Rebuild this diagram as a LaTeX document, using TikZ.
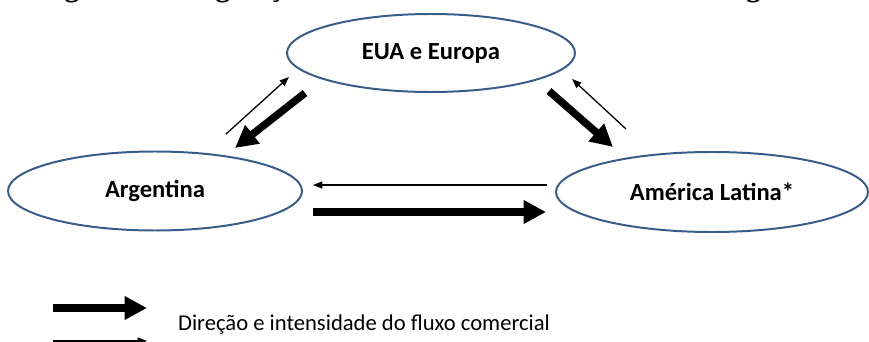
\documentclass[tikz,border=0pt]{standalone}
\usepackage{fontspec}
\setmainfont{Carlito}
\newfontfamily\titulofonte{Liberation Serif}
\usetikzlibrary{shapes.geometric,arrows.meta}
\definecolor{azul}{RGB}{56,93,138}
\tikzset{
  bloco/.style={ellipse, draw=azul, line width=1.7pt, inner sep=0pt,
    font=\fontsize{21}{25}\selectfont\bfseries},
  forte/.style={line width=6.4pt, -{Triangle[length=19pt,width=19pt]}},
  fraco/.style={line width=1.1pt, -{Triangle[length=8pt,width=6pt]}},
}
\begin{document}
\begin{tikzpicture}[x=0.03cm,y=-0.03cm]
    \useasboundingbox (0,0) rectangle (869,342);
    \clip (0,0) rectangle (869,342);
    % titulo (cortado)
    \node[anchor=base, font=\titulofonte\fontsize{25}{30}\selectfont\bfseries] (titulo) at (412,-3)
        {Estratégia de Triangulação no Comércio de Medicamentos Argentinos};
    % regioes
    \node[bloco, minimum width=288*0.03cm, minimum height=78*0.03cm] (eua) at (431,53) {EUA e Europa};
    \node[bloco, minimum width=294*0.03cm, minimum height=79*0.03cm] (arg) at (155,191) {Argentina};
    \node[bloco, minimum width=312*0.03cm, minimum height=80*0.03cm] (al) at (712,192) {América Latina*};
    % pontas dos fluxos
    \coordinate (p1) at (226,134); \coordinate (q1) at (289,77);
    \coordinate (p2) at (305,93);  \coordinate (q2) at (235,148);
    \coordinate (p3) at (549,91);  \coordinate (q3) at (613,147);
    \coordinate (p4) at (626,129); \coordinate (q4) at (572,79);
    \coordinate (p5) at (547,185); \coordinate (q5) at (313,185);
    \coordinate (p6) at (313,212); \coordinate (q6) at (546,212);
    \draw[fraco] (p1) -- (q1);
    \draw[forte] (p2) -- (q2);
    \draw[forte] (p3) -- (q3);
    \draw[fraco] (p4) -- (q4);
    \draw[fraco] (p5) -- (q5);
    \draw[forte] (p6) -- (q6);
    % legenda
    \coordinate (l1) at (53,308); \coordinate (m1) at (147,308);
    \coordinate (l2) at (53,341); \coordinate (m2) at (147,341);
    \draw[forte] (l1) -- (m1);
    \draw[fraco] (l2) -- (m2);
    \node[anchor=base west, font=\fontsize{19.3}{23}\selectfont] (leg) at (174,330)
        {Direção e intensidade do fluxo comercial};
\end{tikzpicture}
\end{document}
